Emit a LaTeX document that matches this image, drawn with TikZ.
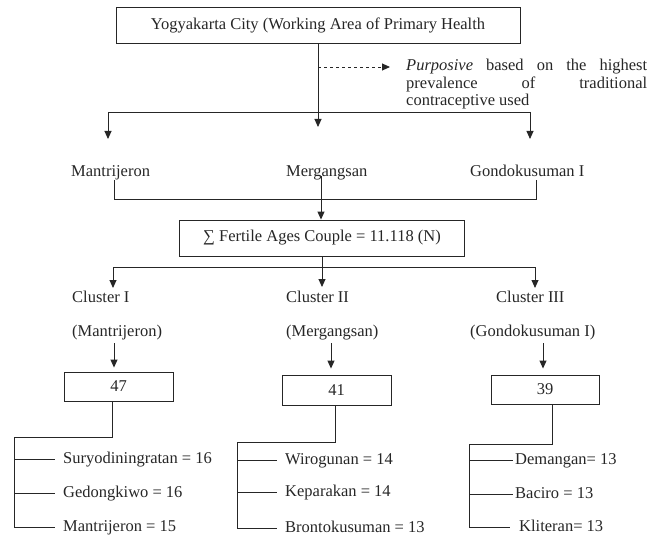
\documentclass[tikz,border=0pt]{standalone}
\usepackage{fontspec}
\setmainfont{Liberation Serif}
\usetikzlibrary{arrows.meta}
\begin{document}
\begin{tikzpicture}[x=1pt,y=-1pt,
  font=\fontsize{16.5}{17.5}\selectfont,
  line/.style={draw=black!85, line width=0.9pt},
  arr/.style={line, -{Triangle[length=8pt,width=7pt]}},
  box/.style={draw=black!85, line width=0.9pt, inner sep=0pt, align=center, text=black!85},
  lbl/.style={inner sep=0pt, anchor=west, text=black!85, text height=11.5pt, text depth=3.5pt}]
\useasboundingbox (0,0) rectangle (652,537);
% top box
\node[box, minimum width=404pt, minimum height=36pt] (top) at (318,25) {Yogyakarta City (Working Area of Primary Health};
\coordinate (t1) at (318,127);
\coordinate (L1) at (108,112);
\coordinate (R1) at (530,112);
\coordinate (d0) at (318,67);
\coordinate (d1) at (390,67);
\draw[arr] (top.south) -- (t1);
\draw[line] (L1) -- (R1);
\draw[arr] (L1) -- ++(0,27);
\draw[arr] (R1) -- ++(0,27);
\draw[line, dashed, -{Triangle[length=8pt,width=7pt]}] (d0) -- (d1);
\node[inner sep=0pt, anchor=west, text width=241pt, align=justify, text=black!85] (purp) at (406,84.5)
  {\textit{Purposive} based on the highest\linebreak prevalence of traditional\linebreak contraceptive used};
% second row
\node[lbl] (mA) at (71,173) {Mantrijeron};
\node[lbl] (mB) at (286,173) {Mergangsan};
\node[lbl] (mC) at (470,173) {Gondokusuman I};
\coordinate (a1) at (114,180);
\coordinate (a2) at (114,199);
\coordinate (a3) at (536,199);
\coordinate (a4) at (536,180);
\coordinate (a5) at (321,176);
\draw[line] (a1) -- (a2) -- (a3) -- (a4);
\node[box, minimum width=285pt, minimum height=36pt] (fert) at (322,238) {∑ Fertile Ages Couple = 11.118 (N)};
\draw[arr] (a5) -- (fert.north -| a5);
% third row
\coordinate (b0) at (322,267);
\coordinate (b1) at (322,287);
\coordinate (bL) at (113,267);
\coordinate (bR) at (535,267);
\draw[arr] (fert.south -| b0) -- (b1);
\draw[line] (bL) -- (bR);
\draw[arr] (bL) -- ++(0,21);
\draw[arr] (bR) -- ++(0,21);
\node[lbl] (c1) at (72,298) {Cluster I};
\node[lbl] (c2) at (286,298) {Cluster II};
\node[lbl] (c3) at (496,298) {Cluster III};
\node[lbl] (p1) at (72,332) {(Mantrijeron)};
\node[lbl] (p2) at (286,332) {(Mergangsan)};
\node[lbl] (p3) at (470,332) {(Gondokusuman I)};
\coordinate (e1) at (114,343);
\coordinate (e2) at (331,343);
\coordinate (e3) at (543,343);
\node[box, minimum width=109pt, minimum height=29pt] (b47) at (118.5,386.5) {47};
\node[box, minimum width=109pt, minimum height=30pt] (b41) at (336.5,390) {41};
\node[box, minimum width=108pt, minimum height=29pt] (b39) at (545,389.5) {39};
\draw[arr, shorten >=4pt] (e1) -- (b47.north -| e1);
\draw[arr, shorten >=6pt] (e2) -- (b41.north -| e2);
\draw[arr, shorten >=6pt] (e3) -- (b39.north -| e3);
% cluster I
\coordinate (q1) at (112,437);
\coordinate (q2) at (14,437);
\coordinate (q3) at (14,527);
\draw[line] (b47.south -| q1) -- (q1) -- (q2) -- (q3);
\node[lbl] (s1) at (63,459) {Suryodiningratan = 16};
\node[lbl] (s2) at (63,493) {Gedongkiwo = 16};
\node[lbl] (s3) at (63,527) {Mantrijeron = 15};
\draw[line] (q2 |- s1.west) -- ([xshift=-8pt]s1.west);
\draw[line] (q2 |- s2.west) -- ([xshift=-8pt]s2.west);
\draw[line] (q3) -- ([xshift=-8pt]s3.west);
% cluster II
\coordinate (r1) at (335,442);
\coordinate (r2) at (237,442);
\coordinate (r3) at (237,528);
\draw[line] (b41.south -| r1) -- (r1) -- (r2) -- (r3);
\node[lbl] (w1) at (285,460) {Wirogunan = 14};
\node[lbl] (w2) at (285,492) {Keparakan = 14};
\node[lbl] (w3) at (285,528) {Brontokusuman = 13};
\draw[line] (r2 |- w1.west) -- ([xshift=-8pt]w1.west);
\draw[line] (r2 |- w2.west) -- ([xshift=-8pt]w2.west);
\draw[line] (r3) -- ([xshift=-8pt]w3.west);
% cluster III
\coordinate (u1) at (552,444);
\coordinate (u2) at (469,444);
\coordinate (u3) at (469,527);
\draw[line] (b39.south -| u1) -- (u1) -- (u2) -- (u3);
\node[lbl] (k1) at (515,460) {Demangan= 13};
\node[lbl] (k2) at (515,494) {Baciro = 13};
\node[lbl] (k3) at (519,527) {Kliteran= 13};
\draw[line] (u2 |- k1.west) -- ([xshift=-2pt]k1.west);
\draw[line] (u2 |- k2.west) -- ([xshift=-2pt]k2.west);
\draw[line] (u3) -- ([xshift=-9pt]k3.west);
\end{tikzpicture}
\end{document}
